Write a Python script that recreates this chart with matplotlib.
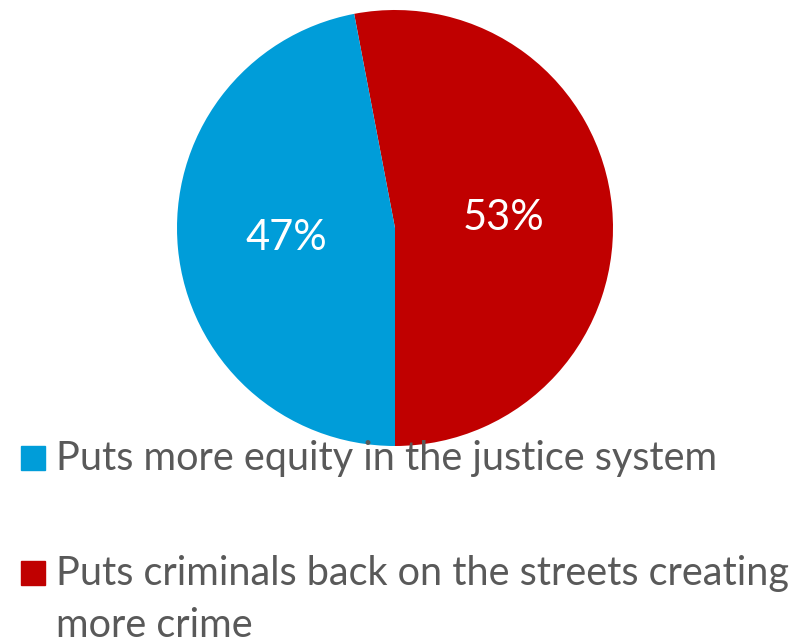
import matplotlib
matplotlib.use("Agg")
import matplotlib.pyplot as plt
from matplotlib.patches import Rectangle

categories = ["Puts criminals back on the streets creating\nmore crime",
              "Puts more equity in the justice system"]
values = [53, 47]
colors = ["#C00000", "#009DD9"]
legend_order = [1, 0]

W, H = 810, 642
fig = plt.figure(figsize=(W / 100, H / 100), dpi=100)
plt.rcParams['font.family'] = ['Lato', 'DejaVu Sans']

cx, cy, r = 395, 228, 218
ax = fig.add_axes([(cx - r) / W, (H - cy - r) / H, 2 * r / W, 2 * r / H])
wedges, texts, autotexts = ax.pie(values, colors=colors, startangle=270,
                                  counterclock=True, radius=1,
                                  autopct=lambda p: f"{p:.0f}%", pctdistance=0.5,
                                  textprops=dict(color="white", fontsize=30))
ax.set_xlim(-1, 1)
ax.set_ylim(-1, 1)
ax.set_aspect("equal")
ax.axis("off")

text_color = "#595959"
baselines = [470, 585]
line_gap = 52
for i, idx in enumerate(legend_order):
    b = baselines[i]
    fig.patches.append(Rectangle((21 / W, (H - b) / H), 24 / W, 24 / H,
                                 transform=fig.transFigure, color=colors[idx]))
    for k, line in enumerate(categories[idx].split("\n")):
        fig.text(56 / W, (H - b - k * line_gap) / H, line, color=text_color,
                 fontsize=28.5, va="baseline", ha="left",
                 transform=fig.transFigure)

fig.savefig("out.png", dpi=100)
